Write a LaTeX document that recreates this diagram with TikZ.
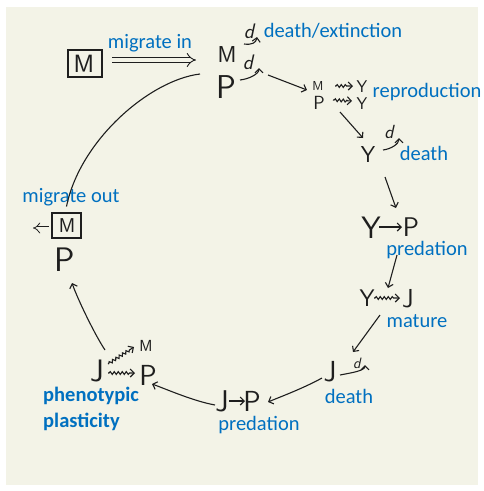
\documentclass[tikz,border=0pt]{standalone}
\usepackage{fontspec}
\newfontfamily\calibri{Carlito}
\usetikzlibrary{arrows.meta,decorations.pathmorphing,calc}
\definecolor{bgc}{HTML}{F3F3E7}
\definecolor{bluec}{HTML}{0070C0}
\definecolor{ink}{HTML}{1E1E1E}
\tikzset{
  hand/.style={font=\sffamily\fontsize{#1}{#1}\selectfont, inner sep=0pt, text=ink},
  dlet/.style={font=\sffamily\itshape\fontsize{#1}{#1}\selectfont, inner sep=0pt, text=ink},
  lbl/.style={font=\calibri\fontsize{20.5}{26}\selectfont, text=bluec, inner sep=0pt},
  conn/.style={draw=ink, line width=1.1pt, -{Straight Barb[length=4pt,width=8pt]}},
  wiggle/.style={conn, decorate, decoration={snake, amplitude=1.4pt, segment length=4pt, pre length=1pt, post length=5pt}},
  dblarr/.style={draw=ink, line width=0.9pt, double=bgc, double distance=4pt, -{Implies}},
  mbox/.style={draw=ink, line width=1.3pt, inner sep=0pt}
}
\begin{document}
\begin{tikzpicture}[x=1pt,y=-1pt]
\fill[white] (0,0) rectangle (484,491);
\fill[bgc] (6,7) rectangle (478,485);
\useasboundingbox (0,0) rectangle (484,491);

% handwritten letters
\node[mbox, minimum width=34pt, minimum height=27pt] (boxIn) at (85,63.5) {};
\node[hand=25] (Min) at (84,64) {M};
\node[hand=23] (Mtop) at (227,55) {M};
\node[hand=33] (Ptop) at (226,87) {P};
\node[dlet=21] (d1) at (249,31) {d};
\node[dlet=21] (d2) at (248,62) {d};
\node[hand=13] (Mr) at (318,86) {M};
\node[hand=17] (Yr1) at (362,87) {Y};
\node[hand=19] (Pr) at (319,103) {P};
\node[hand=17] (Yr2) at (362,104) {Y};
\node[hand=23] (Yd) at (368,155) {Y};
\node[dlet=19] (d3) at (389,132) {d};
\node[hand=31] (Yp) at (371,228) {Y};
\node[hand=27] (Pp) at (411,227) {P};
\node[hand=24] (Ym) at (367,298) {Y};
\node[hand=26] (Jm) at (408,299) {J};
\node[hand=29] (Jd) at (330,372) {J};
\node[dlet=15] (d4) at (357,363) {d};
\node[hand=30] (Jp) at (222,401) {J};
\node[hand=29] (Pp2) at (252,401) {P};
\node[hand=31] (Jph) at (97,371) {J};
\node[hand=16] (Mph) at (146,346) {M};
\node[hand=29] (Pph) at (148,375) {P};
\node[mbox, minimum width=29pt, minimum height=25pt] (boxOut) at (66.5,225.5) {};
\node[hand=20] (Mout) at (67,226) {M};
\node[hand=34] (Pl) at (65,260) {P};

% labels
\node[lbl] (migIn) at (150,43) {migrate in};
\node[lbl] (deathExt) at (333,31) {death/extinction};
\node[lbl] (repro) at (427,92) {reproduction};
\node[lbl] (death2) at (424,153) {death};
\node[lbl] (pred1) at (427,250) {predation};
\node[lbl] (mature) at (417,321) {mature};
\node[lbl] (death3) at (349,396) {death};
\node[lbl] (pred2) at (259,425) {predation};
\node[lbl] (migOut) at (71,197) {migrate out};
\node[lbl, font=\calibri\bfseries\fontsize{20.5}{26}\selectfont, align=left, anchor=west] (pheno) at (43,409) {phenotypic\\plasticity};

% connectors
\draw[dblarr] ($(boxIn)+(27,-3.5)$) -- ($(Mtop)+(-31,5)$);
\draw[conn] ($(Mtop)+(17,-11)$) .. controls +(8,1) and +(-1,6) .. ($(d1)+(8,6)$);
\draw[conn] ($(Ptop)+(14,-7)$) .. controls +(9,-1) and +(0,6) .. ($(d2)+(11,6)$);
\draw[conn] ($(Ptop)+(42,-12)$) -- ($(Mr)+(-11,4)$);
\draw[wiggle] ($(Mr)+(17,0)$) -- ($(Yr1)+(-9,-1)$);
\draw[wiggle] ($(Pr)+(14,-3)$) -- ($(Yr2)+(-10,-3)$);
\draw[conn] ($(Pr)+(21,9)$) -- ($(Yd)+(-5,-17)$);
\draw[conn] ($(Yd)+(15,-5)$) .. controls +(8,-1) and +(0,6) .. ($(d3)+(10,6)$);
\draw[conn] ($(Yd)+(17,22)$) -- ($(Yp)+(25,-20)$);
\draw[conn] ($(Yp)+(8,-1)$) -- ($(Pp)+(-9,0)$);
\draw[conn] ($(Pp)+(-14,28)$) -- ($(Ym)+(21,-10)$);
\draw[wiggle] ($(Ym)+(7,0)$) -- ($(Jm)+(-8,-1)$);
\draw[conn] ($(Ym)+(13,17)$) -- ($(Jd)+(23,-20)$);
\draw[conn] ($(Jd)+(10,3)$) .. controls +(10,-2) and +(0,6) .. ($(d4)+(8,2)$);
\draw[conn] ($(Jd)+(-8,6)$) .. controls +(-18,10) and +(12,-5) .. ($(Pp2)+(16,1)$);
\draw[conn] ($(Jp)+(7,0)$) -- ($(Pp2)+(-7,0)$);
\draw[conn] ($(Jp)+(-7,4)$) .. controls +(-22,-4) and +(14,5) .. ($(Pph)+(4,9)$);
\draw[wiggle] ($(Jph)+(11,-7)$) -- ($(Mph)+(-12,1)$);
\draw[wiggle] ($(Jph)+(11,2)$) -- ($(Pph)+(-13,-2)$);
\draw[conn] ($(Jph)+(8,-21)$) .. controls +(-10,-15) and +(6,17) .. ($(Pl)+(7,23)$);
\draw[draw=ink, line width=1.1pt] ($(Ptop)+(-26,-13)$) .. controls +(-50,6) and +(13.5,-66.5) .. ($(boxOut)+(0,-19)$);
\coordinate (outEnd) at (33,228);
\draw[draw=ink, line width=0.8pt, double=bgc, double distance=3pt, -{Implies}] ($(boxOut)+(-18,2.5)$) -- (outEnd);
\end{tikzpicture}
\end{document}
